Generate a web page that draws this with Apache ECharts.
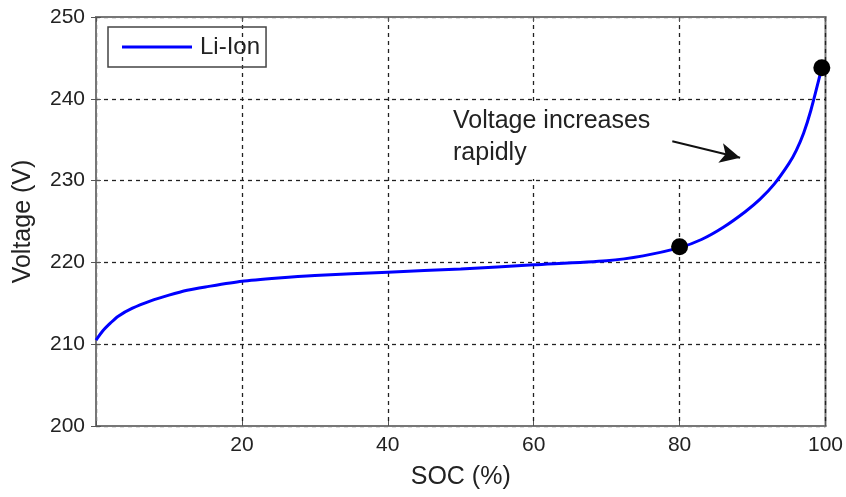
<!DOCTYPE html>
<html>
<head>
<meta charset="utf-8">
<script src="https://cdn.jsdelivr.net/npm/echarts@6/dist/echarts.min.js"></script>
<style>
  html, body { margin: 0; padding: 0; background: #fff; }
  #chart { width: 846px; height: 497px; }
</style>
</head>
<body>
<div id="chart"></div>
<script>
// SOC (%) and pack voltage
const soc = [0, 1, 2, 3, 5, 7.5, 10, 12.5, 15, 20, 25, 30, 40, 50, 60, 70, 75, 80, 83, 86, 89, 91, 93, 95, 96, 97, 98, 99.5];
const voltage = [210.5, 211.7, 212.6, 213.4, 214.4, 215.3, 216.0, 216.6, 217.0, 217.7, 218.1, 218.4, 218.8, 219.2, 219.7, 220.2, 220.8, 221.8, 222.8, 224.3, 226.2, 227.7, 229.6, 232.1, 233.7, 235.8, 238.6, 243.8];
// highlighted points
const markSoc = [80, 99.5];
const markVoltage = [221.9, 243.8];
// annotation arrow, in data units
const arrowFrom = [79, 234.8];
const arrowTo = [88.3, 232.8];

const chart = echarts.init(document.getElementById('chart'));
const font = 'Liberation Sans, Arial, sans-serif';
const txt = '#222';

const option = {
  animation: false,
  backgroundColor: '#fff',
  textStyle: { fontFamily: font },
  grid: {
    left: 96, right: 20, top: 17, bottom: 71,
    show: true, borderColor: '#777', borderWidth: 2
  },
  legend: {
    data: ['Li-Ion'],
    left: 108, top: 27,
    padding: [8, 6, 8, 14],
    borderColor: '#444', borderWidth: 1.5,
    itemWidth: 70, itemHeight: 3, itemGap: 0,
    icon: 'rect',
    textStyle: { fontSize: 24, color: txt, fontFamily: font, padding: [0, 0, 0, 3] }
  },
  xAxis: [{
    type: 'value', min: 0, max: 100, interval: 20,
    name: 'SOC (%)', nameLocation: 'middle', nameGap: 39,
    nameTextStyle: { fontSize: 25, color: txt },
    axisLine: { lineStyle: { color: '#777', width: 2 } },
    axisTick: { inside: true, length: 5, lineStyle: { color: '#555' } },
    axisLabel: {
      fontSize: 21, color: txt, margin: 9,
      formatter: v => v === 0 ? '' : v
    },
    splitLine: { lineStyle: { color: '#222', type: [4, 4], width: 1.3 } }
  }, {
    type: 'value', min: 0, max: 100, interval: 20, position: 'top',
    axisLine: { lineStyle: { color: '#777', width: 2 } },
    axisTick: { inside: true, length: 5, lineStyle: { color: '#555' } },
    axisLabel: { show: false }, splitLine: { show: false }
  }],
  yAxis: [{
    type: 'value', min: 200, max: 250, interval: 10,
    name: 'Voltage (V)', nameLocation: 'middle', nameGap: 60,
    nameTextStyle: { fontSize: 25, color: txt },
    axisLine: { show: true, lineStyle: { color: '#777', width: 2 } },
    axisTick: { show: true, inside: true, length: 5, lineStyle: { color: '#555' } },
    axisLabel: { fontSize: 21, color: txt, margin: 11 },
    splitLine: { lineStyle: { color: '#222', type: [4, 4], width: 1.3 } }
  }, {
    type: 'value', min: 200, max: 250, interval: 10, position: 'right',
    axisLine: { show: true, lineStyle: { color: '#777', width: 2 } },
    axisTick: { show: true, inside: true, length: 5, lineStyle: { color: '#555' } },
    axisLabel: { show: false }, splitLine: { show: false }
  }],
  graphic: [{
    type: 'rect', z: 1,
    shape: { x: 437, y: 101, width: 246, height: 78 },
    style: { fill: '#fff' }
  }, {
    type: 'text', z: 1, left: 453, top: 105,
    style: {
      text: 'Voltage increases\nrapidly',
      font: '25px ' + font, fill: txt, lineHeight: 32
    }
  }],
  series: [{
    name: 'Li-Ion',
    type: 'line',
    data: soc.map((s, i) => [s, voltage[i]]),
    smooth: 0.25,
    symbol: 'none',
    z: 3,
    lineStyle: { color: '#0000ff', width: 3 },
    itemStyle: { color: '#0000ff' },
    markLine: {
      silent: true,
      symbol: ['none', 'arrow'],
      symbolSize: [15, 20],
      label: { show: false },
      lineStyle: { color: '#111', width: 2, type: 'solid' },
      data: [[{ coord: arrowFrom }, { coord: arrowTo }]]
    }
  }, {
    name: 'points',
    type: 'scatter',
    data: markSoc.map((s, i) => [s, markVoltage[i]]),
    symbolSize: 17,
    z: 4,
    itemStyle: { color: '#000', opacity: 1 }
  }]
};

chart.setOption(option);
</script>
</body>
</html>
